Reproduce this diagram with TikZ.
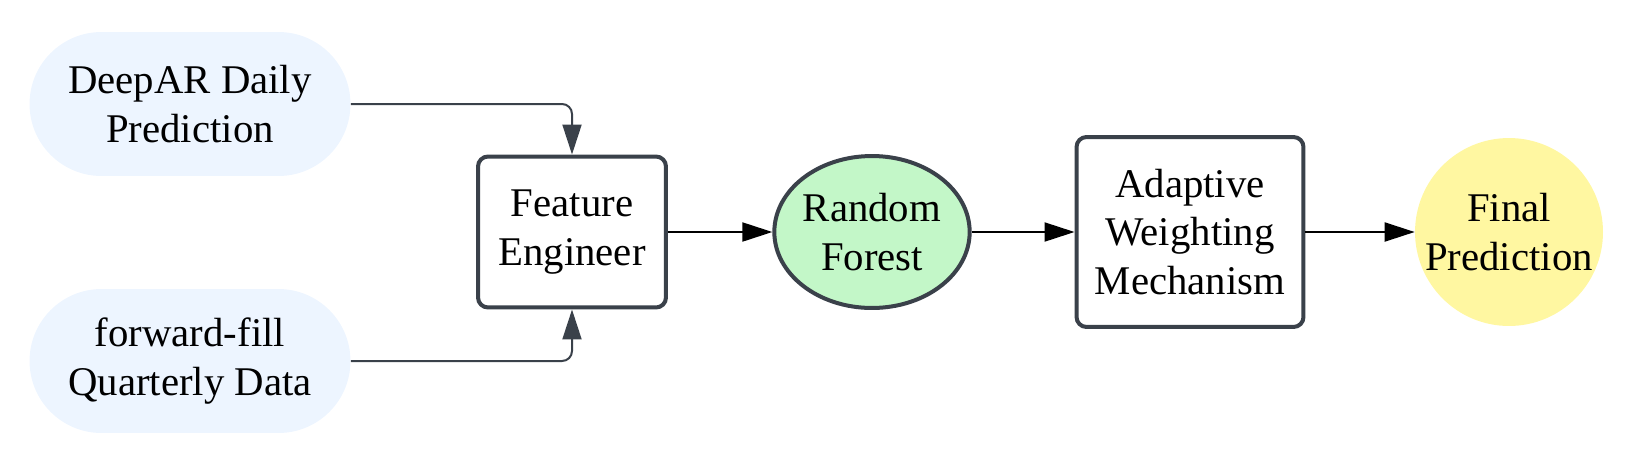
\documentclass[tikz,border=0pt]{standalone}
\usepackage{xcolor}
\usepackage{fontspec}
\setmainfont{Liberation Serif}
\usepackage{tikz}
\usetikzlibrary{arrows.meta}
\definecolor{inputblue}{HTML}{EDF5FF}
\definecolor{forestgreen}{HTML}{C3F7C8}
\definecolor{finalyellow}{HTML}{FFF7A1}
\definecolor{edgegray}{HTML}{3A414A}
\tikzstyle{source} = [rectangle, rounded corners=1.44cm, minimum width=6.42cm, minimum height=2.88cm, align=center, draw=none, fill=inputblue]
\tikzstyle{process} = [rectangle, rounded corners=0.2cm, minimum width=3.76cm, minimum height=3.02cm, align=center, draw=edgegray, line width=0.08cm, fill=white]
\tikzstyle{model} = [ellipse, minimum width=3.78cm, minimum height=3.04cm, inner sep=0pt, align=center, draw=edgegray, line width=0.08cm, fill=forestgreen]
\tikzstyle{result} = [circle, minimum size=3.76cm, inner sep=0pt, align=center, fill=finalyellow]
\tikzstyle{arrow} = [line width=0.04cm, draw=edgegray, -{Triangle[length=0.6cm, width=0.38cm]}]
\usetikzlibrary{shapes.geometric}

\begin{document}
\begin{tikzpicture}[x=0.02cm, y=-0.02cm, every node/.style={font=\fontsize{23.2}{27.8}\selectfont}]

	\useasboundingbox (0,0) rectangle (1635,471);

	\node (deepar) [source] at (190,104) {DeepAR Daily\\Prediction};
	\node (ffill) [source] at (190,361) {forward-fill\\Quarterly Data};
	\node (feature) [process] at (572,232) {Feature\\Engineer};
	\node (forest) [model] at (872,232) {Random\\Forest};
	\node (weighting) [process, minimum width=4.54cm, minimum height=3.8cm] at (1190,232) {Adaptive\\Weighting\\Mechanism};
	\node (final) [result] at (1509,232) {Final\\Prediction};

	\draw [arrow, rounded corners=0.2cm] (deepar.east) -| (feature.north);
	\draw [arrow, rounded corners=0.2cm] (ffill.east) -| (feature.south);
	\draw [arrow, draw=black] (feature) -- (forest);
	\draw [arrow, draw=black] (forest) -- (weighting);
	\draw [arrow, draw=black] (weighting) -- (final);

\end{tikzpicture}
\end{document}
